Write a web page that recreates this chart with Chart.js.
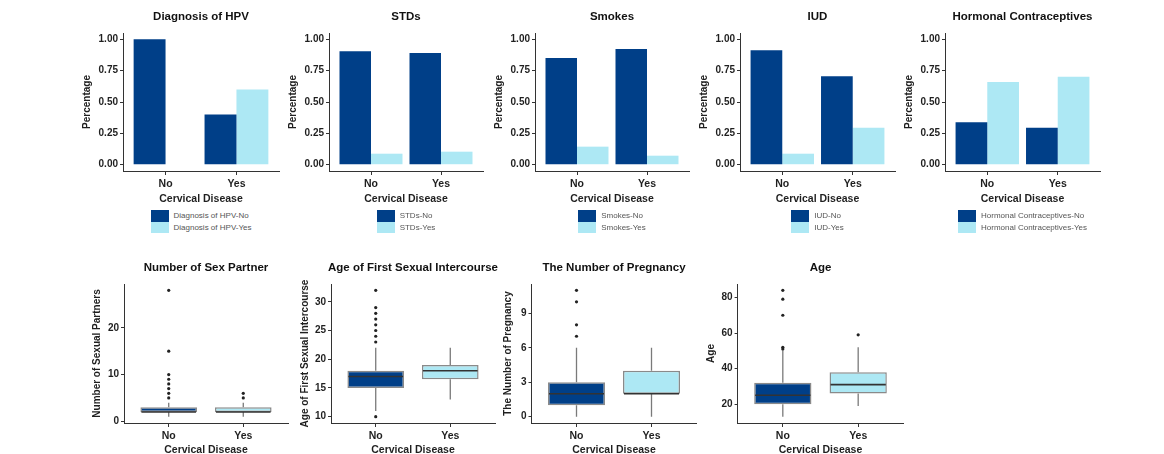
<!DOCTYPE html>
<html>
<head>
<meta charset="utf-8">
<script src="https://cdn.jsdelivr.net/npm/chart.js@4.4.1/dist/chart.umd.min.js"></script>
<style>
  html, body { margin: 0; padding: 0; background: #fff; }
  #wrap { position: relative; width: 1164px; height: 454px; overflow: hidden; font-family: 'Liberation Sans', Arial, sans-serif; }
  .lg { position: absolute; top: 210px; text-align: center; }
  .lg-in { display: inline-block; text-align: left; }
  .lg-row { display: flex; align-items: center; height: 11.7px; }
  .lg-box { width: 18px; height: 11.7px; }
  .lg-txt { margin-left: 5px; font-size: 8px; color: #555; white-space: nowrap; }
</style>
</head>
<body>
<div id="wrap"></div>
<script>
// categories
const groups = ['No', 'Yes'];

// top row: share of each answer within cervical disease No / Yes
const hpvNo = [1.00, 0.40];
const hpvYes = [0.00, 0.60];
const stdNo = [0.904, 0.891];
const stdYes = [0.088, 0.104];
const smokesNo = [0.851, 0.923];
const smokesYes = [0.144, 0.072];
const iudNo = [0.912, 0.705];
const iudYes = [0.088, 0.295];
const hcNo = [0.338, 0.295];
const hcYes = [0.660, 0.702];
const pctTicks = [0, 0.25, 0.5, 0.75, 1];

// bottom row: [lower whisker, q1, median, q3, upper whisker] per group, plus outliers
const partnersBox = [[1, 2, 2, 3, 4], [1, 2, 2, 3, 4]];
const partnersOut = [[5, 6, 7, 8, 9, 10, 15, 28], [5, 6]];
const partnersTicks = [0, 10, 20];

const firstSexBox = [[11, 15, 17, 18, 22], [13, 16.5, 18, 19, 22]];
const firstSexOut = [[10, 23, 24, 25, 26, 27, 28, 29, 32], []];
const firstSexTicks = [10, 15, 20, 25, 30];

const pregBox = [[0, 1, 2, 3, 6], [0, 2, 2, 4, 6]];
const pregOut = [[7, 8, 10, 11], []];
const pregTicks = [0, 3, 6, 9];

const ageBox = [[13, 20, 25, 32, 50], [19, 26, 31, 38, 52]];
const ageOut = [[51, 52, 70, 79, 84], [59]];
const ageTicks = [20, 40, 60, 80];

const DARK = '#003f88';
const LIGHT = '#ade8f4';
const FONT = "'Liberation Sans', Arial, sans-serif";
const INK = '#1f1f1f';

function place(id, left, top, w, h) {
  const c = document.createElement('canvas');
  c.id = id;
  c.width = w;
  c.height = h;
  c.style.cssText = `position:absolute;left:${left}px;top:${top}px;width:${w}px;height:${h}px`;
  document.getElementById('wrap').appendChild(c);
  return c;
}

function xScale(h) {
  return {
    type: 'linear', min: 0.4, max: 2.6, offset: false, bounds: 'data',
    afterBuildTicks: s => { s.ticks = groups.map((g, i) => ({ value: i + 1 })); },
    afterFit: s => { s.height = h; },
    ticks: { callback: v => groups[Math.round(v) - 1], color: INK, padding: 3, maxRotation: 0, autoSkip: false,
             font: { family: FONT, size: 10.5, weight: 'bold' } },
    grid: { offset: false, drawOnChartArea: false, drawTicks: true, tickLength: 4, color: '#333' },
    border: { display: true, color: '#333', width: 1 },
    title: { display: true, text: 'Cervical Disease', color: INK, padding: 0,
             font: { family: FONT, size: 10.5, weight: 'bold' } }
  };
}

function yScale(w, lo, hi, tickVals, fmt, text) {
  return {
    min: lo, max: hi, bounds: 'data',
    afterBuildTicks: s => { s.ticks = tickVals.map(v => ({ value: v })); },
    afterFit: s => { s.width = w; },
    ticks: { callback: fmt, color: INK, padding: 2, font: { family: FONT, size: 10, weight: 'bold' } },
    grid: { drawOnChartArea: false, drawTicks: true, tickLength: 3, color: '#333' },
    border: { display: true, color: '#333', width: 1 },
    title: { display: true, text, color: INK, padding: 0, font: { family: FONT, size: 10, weight: 'bold' } }
  };
}

// empty axis on the right so the panel sits in the middle of its canvas (title centred over panel)
function spacer(w) {
  return {
    position: 'right', display: true,
    afterFit: s => { s.width = w; },
    ticks: { display: false }, grid: { display: false }, border: { display: false }
  };
}

function titleOpts(text, pt, pb) {
  return { display: true, text, color: '#111', padding: { top: pt, bottom: pb },
           font: { family: FONT, size: 11.5, weight: 'bold' } };
}

function barPanel(id, title, noVals, yesVals, name, left, w) {
  const yw = 42;
  const cv = place(id, left - yw, 0, w + 2 * yw, 205);
  const chart = new Chart(cv, {
    type: 'bar',
    data: {
      datasets: [
        { label: name + '-No', data: noVals.map((v, i) => ({ x: i + 1, y: v })), backgroundColor: DARK,
          categoryPercentage: 0.9, barPercentage: 1 },
        { label: name + '-Yes', data: yesVals.map((v, i) => ({ x: i + 1, y: v })), backgroundColor: LIGHT,
          categoryPercentage: 0.9, barPercentage: 1 }
      ]
    },
    options: {
      responsive: false, animation: false,
      layout: { padding: 0 },
      plugins: { legend: { display: false }, tooltip: { enabled: false }, title: titleOpts(title, 10.1, 9.1) },
      scales: {
        x: xScale(34),
        y: yScale(yw, -0.05, 1.05, pctTicks, v => v.toFixed(2), 'Percentage'),
        yr: spacer(yw)
      }
    }
  });

  // legend below the panel, built from the chart's datasets
  const lg = document.createElement('div');
  lg.className = 'lg';
  lg.style.left = left + 'px';
  lg.style.width = w + 'px';
  const inner = document.createElement('div');
  inner.className = 'lg-in';
  chart.data.datasets.forEach(ds => {
    const row = document.createElement('div');
    row.className = 'lg-row';
    row.innerHTML = `<span class="lg-box" style="background:${ds.backgroundColor}"></span><span class="lg-txt">${ds.label}</span>`;
    inner.appendChild(row);
  });
  lg.appendChild(inner);
  document.getElementById('wrap').appendChild(lg);
}

function boxParts(stats) {
  const barMeta = chart => chart.getDatasetMeta(chart.data.datasets.findIndex(d => d.type === 'bar'));
  return {
    id: 'boxParts',
    beforeDatasetsDraw(chart) {
      const meta = barMeta(chart), y = chart.scales.y, ctx = chart.ctx;
      ctx.save();
      ctx.strokeStyle = '#7a7a7a';
      ctx.lineWidth = 1.3;
      stats.forEach((s, i) => {
        const el = meta.data[i];
        ctx.beginPath();
        ctx.moveTo(el.x, y.getPixelForValue(s[0]));
        ctx.lineTo(el.x, y.getPixelForValue(s[1]));
        ctx.moveTo(el.x, y.getPixelForValue(s[3]));
        ctx.lineTo(el.x, y.getPixelForValue(s[4]));
        ctx.stroke();
      });
      ctx.restore();
    },
    afterDatasetsDraw(chart) {
      const meta = barMeta(chart), y = chart.scales.y, ctx = chart.ctx;
      ctx.save();
      ctx.strokeStyle = '#333';
      ctx.lineWidth = 1.6;
      stats.forEach((s, i) => {
        const el = meta.data[i];
        const py = y.getPixelForValue(s[2]);
        ctx.beginPath();
        ctx.moveTo(el.x - el.width / 2 + 1, py);
        ctx.lineTo(el.x + el.width / 2 - 1, py);
        ctx.stroke();
      });
      ctx.restore();
    }
  };
}

function boxPanel(id, title, yTitle, stats, outliers, tickVals, left, w, yw) {
  const all = stats.flat().concat(outliers.flat());
  const lo = Math.min(...all), hi = Math.max(...all), pad = (hi - lo) * 0.05;
  const cv = place(id, left - yw, 250, w + 2 * yw, 206);
  new Chart(cv, {
    type: 'bar',
    data: {
      datasets: [
        { type: 'scatter', data: outliers.flatMap((arr, i) => arr.map(v => ({ x: i + 1, y: v }))),
          pointRadius: 1.6, backgroundColor: '#222', borderWidth: 0 },
        { type: 'bar', data: stats.map((s, i) => ({ x: i + 1, y: [s[1], s[3]] })),
          backgroundColor: [DARK, LIGHT], borderColor: '#8a8a8a', borderWidth: 1.5, borderSkipped: false,
          categoryPercentage: 1, barPercentage: 0.76 }
      ]
    },
    options: {
      responsive: false, animation: false,
      layout: { padding: 0 },
      plugins: { legend: { display: false }, tooltip: { enabled: false }, title: titleOpts(title, 11.4, 8.8) },
      scales: {
        x: xScale(33),
        y: yScale(yw, lo - pad, hi + pad, tickVals, v => String(v), yTitle),
        yr: spacer(yw)
      }
    },
    plugins: [boxParts(stats)]
  });
}

barPanel('hpv', 'Diagnosis of HPV', hpvNo, hpvYes, 'Diagnosis of HPV', 123, 156);
barPanel('std', 'STDs', stdNo, stdYes, 'STDs', 329, 154);
barPanel('smokes', 'Smokes', smokesNo, smokesYes, 'Smokes', 535, 154);
barPanel('iud', 'IUD', iudNo, iudYes, 'IUD', 740, 155);
barPanel('hc', 'Hormonal Contraceptives', hcNo, hcYes, 'Hormonal Contraceptives', 945, 155);

boxPanel('partners', 'Number of Sex Partner', 'Number of Sexual Partners', partnersBox, partnersOut, partnersTicks, 123.5, 164, 33);
boxPanel('firstsex', 'Age of First Sexual Intercourse', 'Age of First Sexual Intercourse', firstSexBox, firstSexOut, firstSexTicks, 330.5, 164, 32);
boxPanel('preg', 'The Number of Pregnancy', 'The Number of Pregnancy', pregBox, pregOut, pregTicks, 531.7, 165, 29.5);
boxPanel('age', 'Age', 'Age', ageBox, ageOut, ageTicks, 737.5, 166, 32.6);
</script>
</body>
</html>
